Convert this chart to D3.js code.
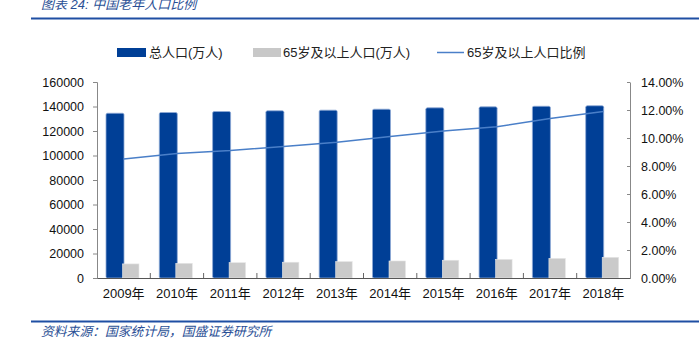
<!DOCTYPE html>
<html>
<head>
<meta charset="utf-8">
<script src="https://cdn.jsdelivr.net/npm/d3@7"></script>
<style>
  html, body { margin: 0; padding: 0; background: #fff; }
  svg { display: block; }
  text { font-family: "Liberation Sans", "Noto Sans CJK SC", sans-serif; }
</style>
</head>
<body>
<svg id="chart" width="699" height="345"></svg>
<script>
const years = ["2009年","2010年","2011年","2012年","2013年","2014年","2015年","2016年","2017年","2018年"];
const totalPop = [134500, 135100, 135900, 136500, 137000, 137800, 138900, 139700, 140200, 140600];
const oldPop = [11500, 12000, 12500, 12900, 13400, 13900, 14500, 15200, 16000, 16900];
const oldRatio = [0.085, 0.089, 0.091, 0.094, 0.097, 0.101, 0.105, 0.108, 0.114, 0.119];
const leftTicks = [0, 20000, 40000, 60000, 80000, 100000, 120000, 140000, 160000];
const rightTicks = [0, 0.02, 0.04, 0.06, 0.08, 0.10, 0.12, 0.14];
const seriesNames = ["总人口(万人)", "65岁及以上人口(万人)", "65岁及以上人口比例"];
const titleText = "图表 24:  中国老年人口比例";
const sourceText = "资料来源：国家统计局，国盛证券研究所";

const svg = d3.select("#chart");
const cjk = '"Noto Sans CJK SC", "Liberation Sans", sans-serif';
const num = '"Liberation Sans", "Noto Sans CJK SC", sans-serif';

const plotLeft = 97, plotRight = 630, plotTop = 82, plotBottom = 278;

const x0 = d3.scaleBand().domain(years).range([plotLeft, plotRight]).padding(0);
const x1 = d3.scaleBand().domain(["total", "old"]).range([9, 42]);
const yL = d3.scaleLinear().domain([0, 160000]).range([plotBottom, plotTop]);
const yR = d3.scaleLinear().domain([0, 0.14]).range([plotBottom, plotTop]);

// Title
svg.append("text").attr("x", 41).attr("y", 9)
  .attr("font-family", cjk).attr("font-size", 13).attr("font-style", "italic")
  .attr("fill", "#2a4f95").text(titleText);
svg.append("line").attr("x1", 31).attr("x2", 699).attr("y1", 18.5).attr("y2", 18.5)
  .attr("stroke", "#1f4fa3").attr("stroke-width", 2);

// Legend
const lg = svg.append("g");
lg.append("rect").attr("x", 117).attr("y", 48).attr("width", 29).attr("height", 9).attr("fill", "#003f96");
lg.append("text").attr("x", 149).attr("y", 52.5).attr("dy", "0.35em").attr("font-family", cjk).attr("font-size", 13).attr("fill", "#222").text(seriesNames[0]);
lg.append("rect").attr("x", 253).attr("y", 48).attr("width", 28).attr("height", 9).attr("fill", "#c8c8c8");
lg.append("text").attr("x", 283).attr("y", 52.5).attr("dy", "0.35em").attr("font-family", cjk).attr("font-size", 13).attr("fill", "#222").text(seriesNames[1]);
lg.append("line").attr("x1", 437).attr("x2", 464).attr("y1", 52.5).attr("y2", 52.5).attr("stroke", "#4a7fc8").attr("stroke-width", 1.5);
lg.append("text").attr("x", 467).attr("y", 52.5).attr("dy", "0.35em").attr("font-family", cjk).attr("font-size", 13).attr("fill", "#222").text(seriesNames[2]);

// Left axis
const leftAxis = d3.axisLeft(yL).tickValues(leftTicks).tickSize(4).tickPadding(9).tickFormat(d3.format("d"));
const gL = svg.append("g").attr("transform", `translate(${plotLeft},0)`).call(leftAxis);
gL.select(".domain").attr("stroke", "#888");
gL.selectAll(".tick line").attr("stroke", "#888");
gL.selectAll(".tick text").attr("font-family", num).attr("font-size", 12.5).attr("fill", "#111");

// Right axis
const rightAxis = d3.axisRight(yR).tickValues(rightTicks).tickSize(0).tickPadding(11).tickFormat(d3.format(".2%"));
const gR = svg.append("g").attr("transform", `translate(${plotRight},0)`).call(rightAxis);
gR.select(".domain").attr("stroke", "#888");
gR.selectAll(".tick").append("line").attr("x1", -3).attr("x2", 0).attr("stroke", "#888");
gR.selectAll(".tick text").attr("font-family", num).attr("font-size", 12.5).attr("fill", "#111");

// Bars
const groups = svg.append("g").selectAll("g").data(years).join("g")
  .attr("transform", d => `translate(${x0(d)},0)`);
groups.append("rect")
  .attr("x", x1("total")).attr("width", x1.bandwidth() + 1.5)
  .attr("y", (d, i) => yL(totalPop[i])).attr("height", (d, i) => plotBottom - yL(totalPop[i]))
  .attr("rx", 1.5)
  .attr("fill", "#003f96").attr("stroke", "#8ea9d6").attr("stroke-width", 0.8);
groups.append("rect")
  .attr("x", x1("old")).attr("width", x1.bandwidth())
  .attr("y", (d, i) => yL(oldPop[i])).attr("height", (d, i) => plotBottom - yL(oldPop[i]))
  .attr("fill", "#cacaca").attr("stroke", "#e6e6e6").attr("stroke-width", 0.6);

// X axis
const xAxis = d3.axisBottom(x0).tickSize(0).tickPadding(11);
const gX = svg.append("g").attr("transform", `translate(0,${plotBottom})`).call(xAxis);
gX.select(".domain").attr("stroke", "#555").attr("stroke-width", 1.2);
gX.selectAll(".tick text").attr("font-family", cjk).attr("font-size", 13).attr("fill", "#111");
// inner category separators
svg.append("g").selectAll("line").data(years.slice(1)).join("line")
  .attr("x1", d => x0(d)).attr("x2", d => x0(d))
  .attr("y1", plotBottom - 5).attr("y2", plotBottom)
  .attr("stroke", "#666");

// Line
const line = d3.line()
  .x((d, i) => x0(years[i]) + x0.bandwidth() / 2)
  .y(d => yR(d));
svg.append("path").datum(oldRatio).attr("d", line)
  .attr("fill", "none").attr("stroke", "#4a7fc8").attr("stroke-width", 1.5);

// Source
svg.append("line").attr("x1", 31).attr("x2", 699).attr("y1", 321.5).attr("y2", 321.5)
  .attr("stroke", "#1f4fa3").attr("stroke-width", 2);
svg.append("text").attr("x", 41).attr("y", 332).attr("dy", "0.35em")
  .attr("font-family", cjk).attr("font-size", 12.8).attr("font-style", "italic")
  .attr("fill", "#2a4f95").text(sourceText);
</script>
</body>
</html>
